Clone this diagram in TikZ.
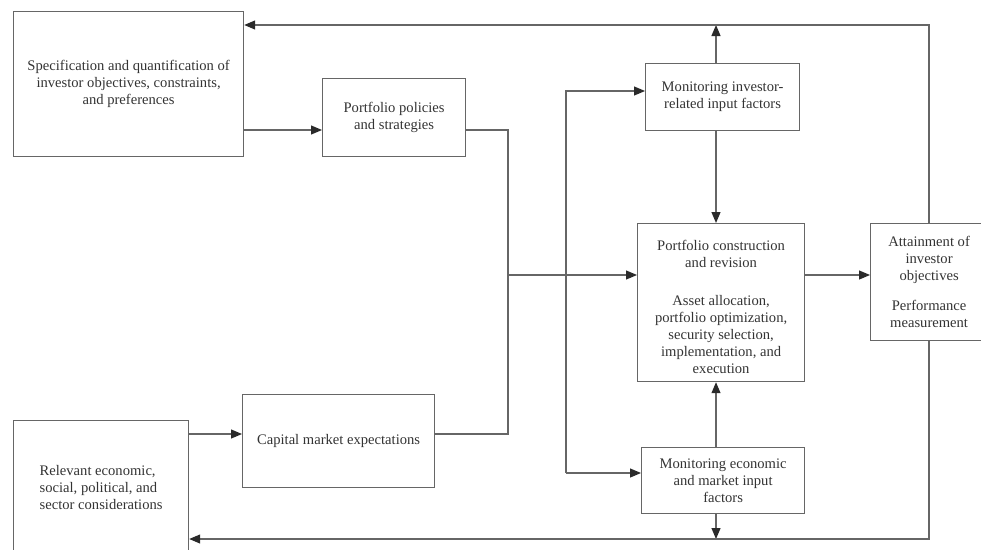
\documentclass[tikz,border=0pt]{standalone}
\usepackage{fontspec}
\setmainfont{Liberation Serif}
\usetikzlibrary{arrows.meta}
\definecolor{linegray}{HTML}{666666}
\definecolor{textgray}{HTML}{333333}
\definecolor{tipgray}{HTML}{2A2A2A}
\begin{document}
\begin{tikzpicture}[x=1pt,y=-1pt,
  box/.style={draw=linegray, line width=1.2pt, anchor=north west, inner sep=0pt,
              align=center, font=\fontsize{14.6}{17}\selectfont, text=textgray},
  conn/.style={draw=linegray, line width=1.15pt},
  arr/.style={conn, -{Triangle[length=11pt,width=9pt,color=tipgray]}}]
\useasboundingbox (0,0) rectangle (981,549);
\clip (0,0) rectangle (981,549);

% boxes
\node[box, minimum width=230, minimum height=145] (spec) at (13,11)
  {Specification and quantification of\\investor objectives, constraints,\\and preferences};
\node[box, minimum width=143, minimum height=78] (policy) at (322,78)
  {Portfolio policies\\and strategies};
\node[box, minimum width=154, minimum height=67] (moninv) at (645,63)
  {Monitoring investor-\\related input factors};
\node[box, minimum width=167, minimum height=158] (constr) at (637,223)
  {\rule{0pt}{18pt}Portfolio construction\\and revision\\[21pt]Asset allocation,\\portfolio optimization,\\security selection,\\implementation, and\\execution};
\node[box, minimum width=117, minimum height=117] (attain) at (870,223)
  {Attainment of\\investor\\objectives\\[13pt]Performance\\measurement};
\node[box, minimum width=163, minimum height=66] (econ) at (641,447)
  {Monitoring economic\\and market input\\factors};
\node[box, minimum width=192, minimum height=93] (capital) at (242,394)
  {Capital market expectations};
\node[box, align=left, minimum width=175, minimum height=134] (relev) at (13,420)
  {Relevant economic,\\social, political, and\\sector considerations};

% routing points
\coordinate (jtop) at (508,130);
\coordinate (jmid) at (508,275);
\coordinate (jbot) at (508,434);
\coordinate (vtop) at (566,91);
\coordinate (vbot) at (566,473);
\coordinate (col) at (716,0);
\coordinate (topR) at (929,25);
\coordinate (botR) at (929,539);

% connectors
\draw[arr] (spec.east |- jtop) -- (policy.west |- jtop);
\draw[arr] (relev.east |- jbot) -- (capital.west |- jbot);
\draw[conn] (policy.east |- jtop) -- (jtop) -- (jbot) -- (capital.east |- jbot);
\draw[arr] (jmid) -- (constr.west |- jmid);
\draw[arr] (vbot) -- (vtop) -- (moninv.west |- vtop);
\draw[arr] (vtop |- vbot) -- (econ.west |- vbot);
\draw[arr] (col |- moninv.south) -- (col |- constr.north);
\draw[arr] (col |- econ.north) -- (col |- constr.south);
\draw[arr] (col |- moninv.north) -- (col |- topR);
\draw[arr] (col |- econ.south) -- (col |- botR);
\draw[arr] (constr.east |- jmid) -- (attain.west |- jmid);
\draw[arr] (attain.north -| topR) -- (topR) -- (spec.east |- topR);
\draw[arr] (attain.south -| botR) -- (botR) -- (relev.east |- botR);
\end{tikzpicture}
\end{document}
